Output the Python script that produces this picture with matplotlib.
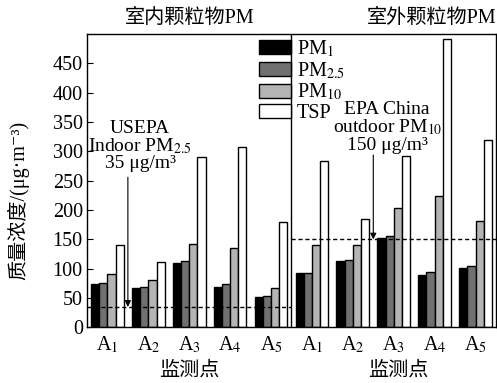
import numpy as np
import matplotlib
matplotlib.use("Agg")
import matplotlib.pyplot as plt

plt.rcParams['font.family'] = ['Liberation Serif', 'Noto Sans CJK SC', 'DejaVu Sans']
plt.rcParams['mathtext.fontset'] = 'stix'

# 监测点: 室内 A1-A5, 室外 A1-A5
sites = ["A$_1$", "A$_2$", "A$_3$", "A$_4$", "A$_5$",
         "A$_1$", "A$_2$", "A$_3$", "A$_4$", "A$_5$"]
pm1 = [74, 68, 110, 69, 52, 92, 113, 153, 90, 102]
pm25 = [75, 68.5, 113, 74, 53, 93.5, 115, 156, 95, 105]
pm10 = [91, 81, 143, 136, 67, 141, 141, 204, 224, 181]
tsp = [141, 112, 290, 308, 180, 283, 185, 292, 491, 320]
series_labels = ["PM$_1$", "PM$_{2.5}$", "PM$_{10}$", "TSP"]
indoor_limit = 35     # USEPA indoor PM2.5
outdoor_limit = 150   # EPA China outdoor PM10

fs = 14.5

fig = plt.figure(figsize=(4.97, 3.83), dpi=100)
ax = fig.add_axes([0.175, 0.145, 0.823, 0.766])

x = np.arange(len(sites))
w = 0.2
colors = ["#000000", "#707070", "#b4b4b4", "#ffffff"]
for k, vals in enumerate([pm1, pm25, pm10, tsp]):
    ax.bar(x + (k - 1.5) * w, vals, w, color=colors[k], edgecolor="black",
           linewidth=1.0, label=series_labels[k])

ax.set_xlim(-0.5, 9.5)
ax.set_ylim(0, 500)
ax.set_yticks(np.arange(0, 451, 50))
ax.set_xticks(x)
ax.set_xticklabels(sites)
ax.tick_params(axis='y', direction='in', length=4, labelsize=fs, pad=3)
ax.tick_params(axis='x', length=0, labelsize=fs, pad=5)
for s in ax.spines.values():
    s.set_linewidth(1.0)

# divider between indoor / outdoor
ax.axvline(4.5, color="black", lw=1.0)

# limit lines
ax.hlines(indoor_limit, -0.5, 4.5, colors="black", linestyles=(0, (3, 2)), lw=1.0)
ax.hlines(outdoor_limit, 4.5, 9.5, colors="black", linestyles=(0, (3, 2)), lw=1.0)

ax.annotate("", xy=(0.5, indoor_limit), xytext=(0.5, 256),
            arrowprops=dict(arrowstyle='-|>', color='black', lw=0.8,
                            mutation_scale=9, shrinkA=0, shrinkB=0))
ax.annotate("", xy=(6.5, outdoor_limit), xytext=(6.5, 294),
            arrowprops=dict(arrowstyle='-|>', color='black', lw=0.8,
                            mutation_scale=9, shrinkA=0, shrinkB=0))
ax.text(0.8, 309, "USEPA\nIndoor PM$_{2.5}$\n35 μg/m³", ha='center', va='center',
        fontsize=14, linespacing=0.95)
ax.text(6.84, 341, "EPA China\noutdoor PM$_{10}$\n150 μg/m³", ha='center', va='center',
        fontsize=14, linespacing=0.95)

# titles for each half
ax.text(2, 1.054, "室内颗粒物PM", transform=ax.get_xaxis_transform(),
        ha='center', va='center', fontsize=fs)
ax.text(1.0, 1.054, "室外颗粒物PM", transform=ax.transAxes,
        ha='right', va='center', fontsize=fs)

# x labels
ax.text(2, -0.15, "监测点", transform=ax.get_xaxis_transform(),
        ha='center', va='center', fontsize=fs)
ax.text(7.1, -0.15, "监测点", transform=ax.get_xaxis_transform(),
        ha='center', va='center', fontsize=fs)

ax.set_ylabel("质量浓度/(μg·m⁻³)", fontsize=fs)
ax.yaxis.set_label_coords(-0.14, 0.434)

ax.legend(loc='upper left', bbox_to_anchor=(0.42, 0.985), frameon=False,
          fontsize=fs, handlelength=1.6, handleheight=0.7,
          labelspacing=0.05, handletextpad=0.3, borderpad=0, borderaxespad=0)

fig.savefig("out.png", dpi=100)
